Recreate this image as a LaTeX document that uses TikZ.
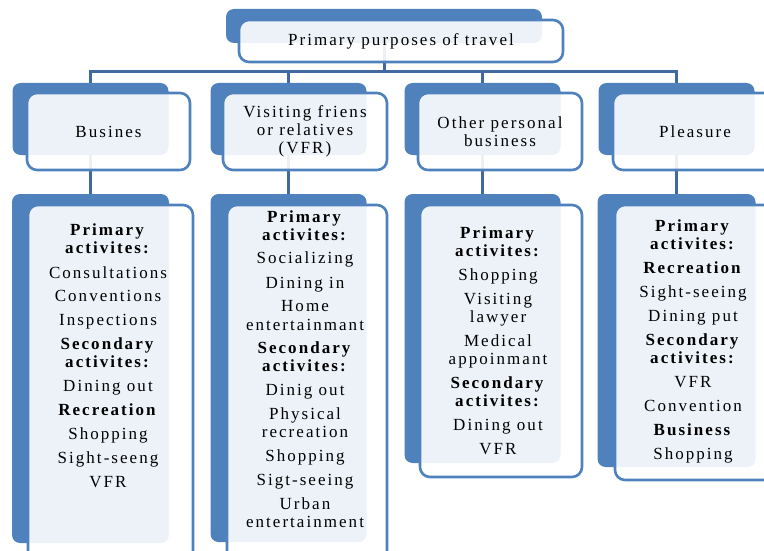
\documentclass[tikz,border=0pt]{standalone}
\usepackage{fontspec}
\setmainfont{Liberation Serif}[LetterSpace=12]
\definecolor{boxblue}{HTML}{4F81BD}
\definecolor{barblue}{HTML}{41699F}

\begin{document}
\begin{tikzpicture}[x=1pt,y=-1pt,font=\fontsize{17}{18}\selectfont]
	\useasboundingbox (0,0) rectangle (764,551);
	\clip (0,0) rectangle (764,551);

	\begin{scope}[every node/.style={fill=boxblue,rounded corners=8pt,inner sep=0pt}]
		\node[minimum width=316,minimum height=34] (tb) at (384,26) {};
		\node[minimum width=156,minimum height=72] (hb1) at (90.5,119) {};
		\node[minimum width=156,minimum height=72] (hb2) at (288.5,119) {};
		\node[minimum width=156,minimum height=72] (hb3) at (482.5,119) {};
		\node[minimum width=156,minimum height=72] (hb4) at (676.5,119) {};
		\node[minimum width=157,minimum height=349] (bb1) at (90.5,368.5) {};
		\node[minimum width=156,minimum height=348] (bb2) at (288.5,368) {};
		\node[minimum width=156,minimum height=269] (bb3) at (482.5,328.5) {};
		\node[minimum width=158,minimum height=273] (bb4) at (676.5,330.5) {};
	\end{scope}

	\coordinate (bar) at (384,72);
	\begin{scope}[every path/.style={draw=barblue,line width=3pt}]
		\foreach \i in {1,...,4} {
			\draw (tb.south) -- (tb.south |- bar) -| (hb\i.north);
			\draw (hb\i.south) -- (bb\i.north);
		}
	\end{scope}

	\begin{scope}[every node/.style={draw=boxblue,line width=2.6pt,fill=white,fill opacity=0.9,
		text opacity=1,rounded corners=10pt,inner sep=0pt,align=center}]
		\node[minimum width=324,minimum height=42] (tf) at (401,41) {Primary purposes of travel};
		\node[minimum width=163,minimum height=77] (hf1) at (108.5,131.5) {Busines};
		\node[minimum width=164,minimum height=77] (hf2) at (305,131.5) {Visiting friens\\or relatives\\(VFR)};
		\node[minimum width=164,minimum height=77] (hf3) at (500,131.5) {Other personal\\business};
		\node[minimum width=164,minimum height=77] (hf4) at (695,131.5) {Pleasure};
		\node[minimum width=165,minimum height=360] (bf1) at (110.5,385) {};
		\node[minimum width=160,minimum height=360] (bf2) at (307,385) {};
		\node[minimum width=162,minimum height=272] (bf3) at (501,341) {};
		\node[minimum width=162,minimum height=275] (bf4) at (696,342.5) {};
	\end{scope}

	\begin{scope}[every node/.style={anchor=north,inner sep=0pt,align=center}]
		\node (t1) at (108,224) {\textbf{Primary}\\\textbf{activites:}\\[6pt]
			Consultations\\[6pt]Conventions\\[6pt]Inspections\\[6pt]
			\textbf{Secondary}\\\textbf{activites:}\\[6pt]Dining out\\[6pt]
			\textbf{Recreation}\\[6pt]Shopping\\[6pt]Sight-seeng\\[6pt]VFR};
		\node (t2) at (305,210) {\textbf{Primary}\\\textbf{activites:}\\[6pt]
			Socializing\\[6pt]Dining in\\[6pt]Home\\entertainmant\\[6pt]
			\textbf{Secondary}\\\textbf{activites:}\\[6pt]Dinig out\\[6pt]
			Physical\\recreation\\[6pt]Shopping\\[6pt]Sigt-seeing\\[6pt]Urban\\entertainment};
		\node (t3) at (498,227) {\textbf{Primary}\\\textbf{activites:}\\[6pt]
			Shopping\\[6pt]Visiting\\lawyer\\[6pt]Medical\\appoinmant\\[6pt]
			\textbf{Secondary}\\\textbf{activites:}\\[6pt]Dining out\\[6pt]VFR};
		\node (t4) at (693,220) {\textbf{Primary}\\\textbf{activites:}\\[6pt]
			\textbf{Recreation}\\[6pt]Sight-seeing\\[6pt]Dining put\\[6pt]
			\textbf{Secondary}\\\textbf{activites:}\\[6pt]VFR\\[6pt]
			Convention\\[6pt]\textbf{Business}\\[6pt]Shopping};
	\end{scope}
\end{tikzpicture}
\end{document}
